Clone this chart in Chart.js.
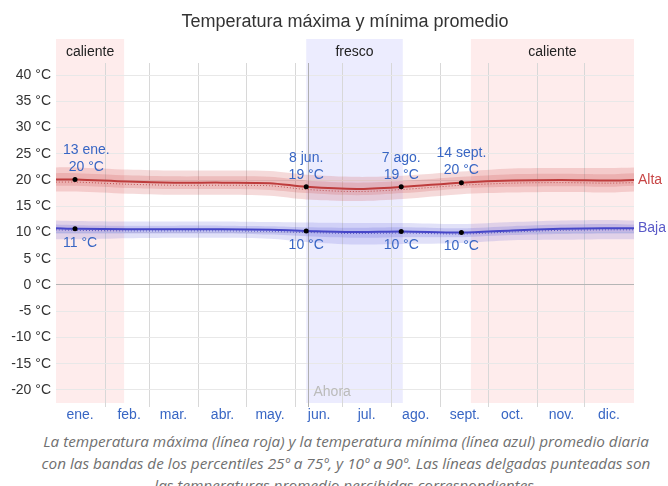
<!DOCTYPE html>
<html>
<head>
<meta charset="utf-8">
<script src="https://cdn.jsdelivr.net/npm/chart.js@4"></script>
<style>
  body { margin: 0; background: #fff; overflow: hidden; }
  #wrap { width: 668px; height: 430px; position: relative; }
  #caption {
    width: 668px; padding-left: 24px; box-sizing: border-box;
    text-align: center; white-space: nowrap;
    font: italic 15.3px "Open Sans", sans-serif; line-height: 22px; color: #707070;
  }
</style>
</head>
<body>
<div id="wrap"><canvas id="chart_div"></canvas></div>
<div id="caption">La temperatura máxima (línea roja) y la temperatura mínima (línea azul) promedio diaria<br>con las bandas de los percentiles 25º a 75º, y 10º a 90º. Las líneas delgadas punteadas son<br>las temperaturas promedio percibidas correspondientes.</div>
<script>
// day of year for each reading
const days    = [0, 13, 45, 75, 105, 135, 158, 190, 219, 256, 288, 319, 349, 365];
const alta    = [20.1, 20.1, 19.7, 19.5, 19.5, 19.4, 18.7, 18.3, 18.7, 19.5, 19.9, 20.0, 19.9, 20.0];
const altaPer = [19.6, 19.6, 19.2, 19.0, 19.0, 18.9, 18.2, 17.8, 18.2, 19.0, 19.4, 19.5, 19.4, 19.5];
const altaP90 = [22.4, 22.4, 22.0, 21.8, 21.8, 21.7, 21.0, 20.6, 20.8, 21.6, 22.2, 22.3, 22.3, 22.4];
const altaP75 = [21.3, 21.3, 20.9, 20.7, 20.7, 20.6, 19.9, 19.5, 19.8, 20.6, 21.1, 21.2, 21.1, 21.3];
const altaP25 = [18.9, 18.9, 18.5, 18.3, 18.3, 18.1, 17.5, 17.1, 17.5, 18.4, 18.7, 18.8, 18.7, 18.9];
const altaP10 = [17.8, 17.8, 17.4, 17.2, 17.2, 17.0, 16.3, 16.0, 16.4, 17.3, 17.6, 17.7, 17.6, 17.8];
const baja    = [10.8, 10.7, 10.6, 10.6, 10.6, 10.5, 10.3, 10.1, 10.2, 10.0, 10.4, 10.7, 10.8, 10.8];
const bajaPer = [10.5, 10.4, 10.3, 10.3, 10.3, 10.2, 10.0, 9.8, 9.9, 9.7, 10.1, 10.4, 10.5, 10.5];
const bajaP90 = [12.3, 12.2, 12.1, 12.1, 12.1, 12.0, 11.9, 11.8, 11.8, 11.6, 12.0, 12.3, 12.4, 12.3];
const bajaP75 = [11.5, 11.4, 11.3, 11.3, 11.3, 11.2, 11.0, 10.9, 11.0, 10.8, 11.2, 11.5, 11.6, 11.5];
const bajaP25 = [9.8, 9.8, 9.8, 9.8, 9.8, 9.6, 9.3, 9.0, 9.1, 9.1, 9.5, 9.7, 9.8, 9.8];
const bajaP10 = [8.7, 8.7, 8.9, 9.0, 9.0, 8.8, 8.2, 7.7, 7.8, 8.0, 8.5, 8.6, 8.7, 8.7];

const monthLabels = ['ene.', 'feb.', 'mar.', 'abr.', 'may.', 'jun.', 'jul.', 'ago.', 'sept.', 'oct.', 'nov.', 'dic.'];
const monthStarts = [0, 31, 59, 90, 120, 151, 181, 212, 243, 273, 304, 334];
const yTicks = [-20, -15, -10, -5, 0, 5, 10, 15, 20, 25, 30, 35, 40];

// annotated points
const markDays  = [12, 158, 218, 256];
const markNames = ['13 ene.', '8 jun.', '7 ago.', '14 sept.'];
const markHi    = [20.1, 18.7, 18.7, 19.5];
const markLo    = [10.7, 10.3, 10.2, 10.0];

// seasons
const seasonNames = ['caliente', 'fresco', 'caliente'];
const seasonStart = [0, 158, 262];
const seasonEnd   = [43, 219, 365];
const ahoraDay = 159;

const FONT = '"Liberation Sans", Arial, sans-serif';
const RED = 'rgb(190, 60, 60)';
const BLUE = 'rgb(70, 70, 200)';
const LABEL_BLUE = '#3866c4';

const pts = arr => days.map((d, i) => ({ x: d, y: arr[i] }));

function band(arr, fillTarget, color, order) {
    return {
        data: pts(arr), borderWidth: 0, pointRadius: 0, tension: 0.3,
        fill: fillTarget, backgroundColor: color, borderColor: 'transparent', order: order
    };
}

const extras = {
    id: 'extras',
    beforeDraw(chart) {
        const ctx = chart.ctx, a = chart.chartArea, x = chart.scales.x;
        ctx.save();
        seasonNames.forEach((name, i) => {
            const x0 = x.getPixelForValue(seasonStart[i]);
            const x1 = x.getPixelForValue(seasonEnd[i]);
            ctx.fillStyle = name === 'fresco' ? 'rgba(110,110,245,0.13)' : 'rgba(245,110,110,0.13)';
            ctx.fillRect(x0, a.top - 24, x1 - x0, a.bottom - a.top + 24);
            ctx.fillStyle = '#222';
            ctx.font = '14px ' + FONT;
            ctx.textAlign = 'center';
            ctx.textBaseline = 'middle';
            ctx.fillText(name, (x0 + x1) / 2, a.top - 11);
        });
        // title
        ctx.fillStyle = '#333';
        ctx.font = '18px ' + FONT;
        ctx.fillText('Temperatura máxima y mínima promedio', (a.left + a.right) / 2, 22);
        ctx.restore();
    },
    beforeDatasetsDraw(chart) {
        const ctx = chart.ctx, a = chart.chartArea, x = chart.scales.x;
        const ax = Math.round(x.getPixelForValue(ahoraDay)) + 0.5;
        ctx.save();
        ctx.strokeStyle = '#b0b0b0';
        ctx.lineWidth = 1;
        ctx.beginPath();
        ctx.moveTo(ax, a.top);
        ctx.lineTo(ax, a.bottom + 4);
        ctx.stroke();
        ctx.fillStyle = '#bbb';
        ctx.font = '14px ' + FONT;
        ctx.textBaseline = 'middle';
        ctx.fillText('Ahora', ax + 5, chart.scales.y.getPixelForValue(-20) + 2);
        ctx.restore();
    },
    afterDatasetsDraw(chart) {
        const ctx = chart.ctx, a = chart.chartArea, x = chart.scales.x, y = chart.scales.y;
        ctx.save();
        ctx.font = '14px ' + FONT;
        ctx.textBaseline = 'middle';
        ctx.textAlign = 'center';
        ctx.fillStyle = LABEL_BLUE;
        markDays.forEach((d, i) => {
            const px = x.getPixelForValue(d);
            const hy = y.getPixelForValue(markHi[i]);
            const ly = y.getPixelForValue(markLo[i]);
            const t1 = markNames[i], t2 = Math.round(markHi[i]) + ' °C', t3 = Math.round(markLo[i]) + ' °C';
            const w = Math.max(ctx.measureText(t1).width, ctx.measureText(t2).width);
            const cx = Math.max(px, a.left + 7 + w / 2);
            ctx.fillText(t1, cx, hy - 29);
            ctx.fillText(t2, cx, hy - 12);
            const cx3 = Math.max(px, a.left + 7 + ctx.measureText(t3).width / 2);
            ctx.fillText(t3, cx3, ly + 14);
        });
        ctx.textAlign = 'left';
        ctx.fillStyle = 'rgb(200, 70, 70)';
        ctx.fillText('Alta', a.right + 4, y.getPixelForValue(alta[alta.length - 1]));
        ctx.fillStyle = 'rgb(90, 90, 200)';
        ctx.fillText('Baja', a.right + 4, y.getPixelForValue(baja[baja.length - 1]));
        ctx.restore();
    }
};

new Chart(document.getElementById('chart_div').getContext('2d'), {
    type: 'line',
    data: {
        datasets: [
            band(altaP90, '+1', 'rgba(205,70,70,0.2)', 6),
            band(altaP10, false, 'transparent', 6),
            band(altaP75, '+1', 'rgba(205,70,70,0.2)', 5),
            band(altaP25, false, 'transparent', 5),
            band(bajaP90, '+1', 'rgba(80,80,215,0.17)', 6),
            band(bajaP10, false, 'transparent', 6),
            band(bajaP75, '+1', 'rgba(80,80,215,0.2)', 5),
            band(bajaP25, false, 'transparent', 5),
            { data: pts(altaPer), borderColor: 'rgba(180,60,60,0.8)', borderWidth: 1, borderDash: [1, 2], pointRadius: 0, tension: 0.3, order: 3 },
            { data: pts(bajaPer), borderColor: 'rgba(60,60,180,0.8)', borderWidth: 1, borderDash: [1, 2], pointRadius: 0, tension: 0.3, order: 3 },
            { label: 'Alta', data: pts(alta), borderColor: RED, borderWidth: 2, pointRadius: 0, tension: 0.3, order: 2 },
            { label: 'Baja', data: pts(baja), borderColor: BLUE, borderWidth: 2, pointRadius: 0, tension: 0.3, order: 2 },
            {
                data: markDays.map((d, i) => ({ x: d, y: markHi[i] })).concat(markDays.map((d, i) => ({ x: d, y: markLo[i] }))),
                showLine: false, pointRadius: 2.5, pointBackgroundColor: '#000', pointBorderWidth: 0, order: 0
            }
        ]
    },
    options: {
        responsive: true,
        maintainAspectRatio: false,
        animation: false,
        layout: { padding: { top: 63, right: 34, left: 0, bottom: 0 } },
        plugins: { legend: { display: false }, tooltip: { enabled: false } },
        scales: {
            x: {
                type: 'linear', min: 0, max: 365,
                afterBuildTicks: s => { s.ticks = monthStarts.map(v => ({ value: v })); },
                afterFit: s => { s.height = 27; },
                border: { display: false },
                grid: {
                    color: c => c.tick && c.tick.value === 0 ? 'transparent' : '#d8d8d8',
                    tickLength: 4
                },
                ticks: {
                    callback: (v, i) => monthLabels[i],
                    labelOffset: 24, padding: 0, maxRotation: 0, autoSkip: false,
                    color: LABEL_BLUE, font: { family: FONT, size: 14 }
                }
            },
            y: {
                min: -22.5, max: 42.3,
                afterBuildTicks: s => { s.ticks = yTicks.map(v => ({ value: v })); },
                afterFit: s => { s.width = 56; },
                border: { display: false },
                grid: {
                    color: c => c.tick && c.tick.value === 0 ? '#b5b5b5' : '#e8e8e8',
                    drawTicks: false
                },
                ticks: {
                    callback: v => v + ' °C', padding: 5,
                    color: '#333', font: { family: FONT, size: 14 }
                }
            }
        }
    },
    plugins: [extras]
});
</script>
</body>
</html>
